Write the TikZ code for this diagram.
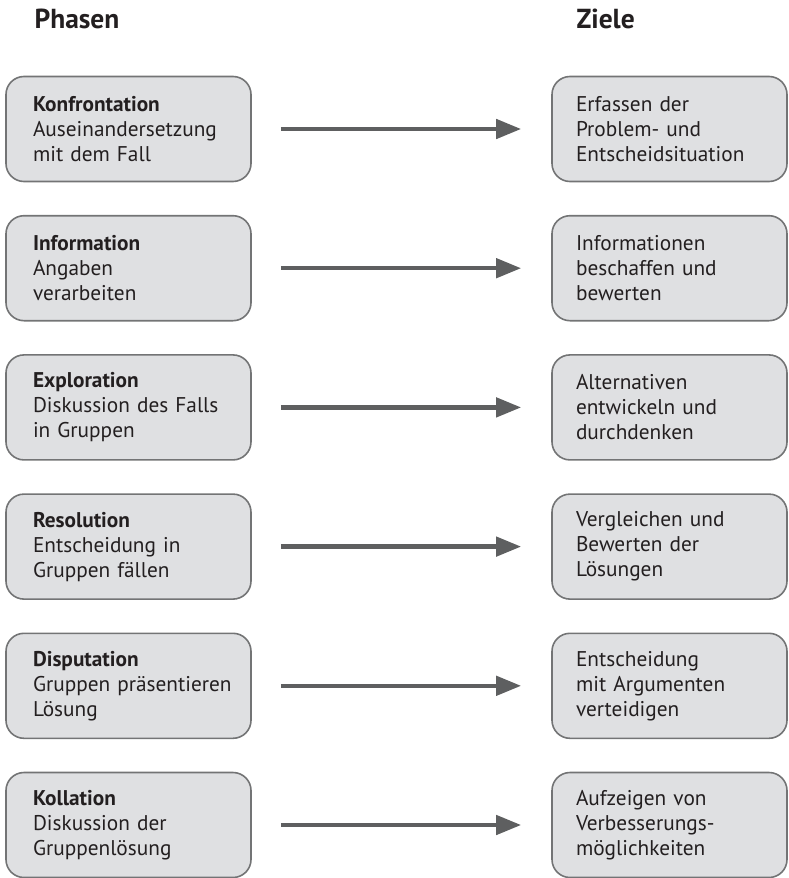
\documentclass[tikz,border=0pt]{standalone}
\usepackage{fontspec}
\setmainfont{PT Sans}
\usetikzlibrary{arrows.meta}
\definecolor{boxfill}{HTML}{DFE0E2}
\definecolor{boxline}{HTML}{737475}
\definecolor{arrowgray}{HTML}{5E5F60}
\definecolor{txt}{HTML}{231F20}
\begin{document}
\begin{tikzpicture}[x=1pt,y=-1pt,
  phase/.style={draw=boxline,line width=1.6pt,fill=boxfill,rounded corners=18pt,minimum height=105pt,text width=237pt,inner xsep=4pt,align=left,execute at begin node={\leftskip=23pt},text=txt,font=\fontsize{21.3}{25}\selectfont},
  goal/.style={phase,text width=227pt,execute at begin node={\leftskip=20pt}},
  flow/.style={arrowgray,line width=4.5pt,-{Triangle[length=25pt,width=19pt]},shorten <=29pt,shorten >=30pt},
  head/.style={anchor=base west,text=txt,font=\fontsize{27.5}{30}\selectfont\bfseries}]
\useasboundingbox (0,0) rectangle (789,878);
\node[head] (phasen) at (31,28) {Phasen};
\node[head] (ziele) at (573,28) {Ziele};
% Phasen
\node[phase] (konfrontation) at (128.5,129) {\textbf{Konfrontation}\\Auseinandersetzung\\mit dem Fall};
\node[phase] (information) at (128.5,268.2) {\textbf{Information}\\Angaben\\verarbeiten};
\node[phase] (exploration) at (128.5,407.4) {\textbf{Exploration}\\Diskussion des Falls\\in Gruppen};
\node[phase] (resolution) at (128.5,546.6) {\textbf{Resolution}\\Entscheidung in\\Gruppen fällen};
\node[phase] (disputation) at (128.5,685.8) {\textbf{Disputation}\\Gruppen präsentieren\\Lösung};
\node[phase] (kollation) at (128.5,825) {\textbf{Kollation}\\Diskussion der\\Gruppenlösung};
% Ziele
\node[goal] (erfassen) at (669.5,129) {Erfassen der\\Problem- und\\Entscheidsituation};
\node[goal] (beschaffen) at (669.5,268.2) {Informationen\\beschaffen und\\bewerten};
\node[goal] (entwickeln) at (669.5,407.4) {Alternativen\\entwickeln und\\durchdenken};
\node[goal] (vergleichen) at (669.5,546.6) {Vergleichen und\\Bewerten der\\Lösungen};
\node[goal] (verteidigen) at (669.5,685.8) {Entscheidung\\mit Argumenten\\verteidigen};
\node[goal] (aufzeigen) at (669.5,825) {Aufzeigen von\\Verbesserungs-\\möglichkeiten};
\draw[flow] (konfrontation) -- (erfassen);
\draw[flow] (information) -- (beschaffen);
\draw[flow] (exploration) -- (entwickeln);
\draw[flow] (resolution) -- (vergleichen);
\draw[flow] (disputation) -- (verteidigen);
\draw[flow] (kollation) -- (aufzeigen);
\end{tikzpicture}
\end{document}
